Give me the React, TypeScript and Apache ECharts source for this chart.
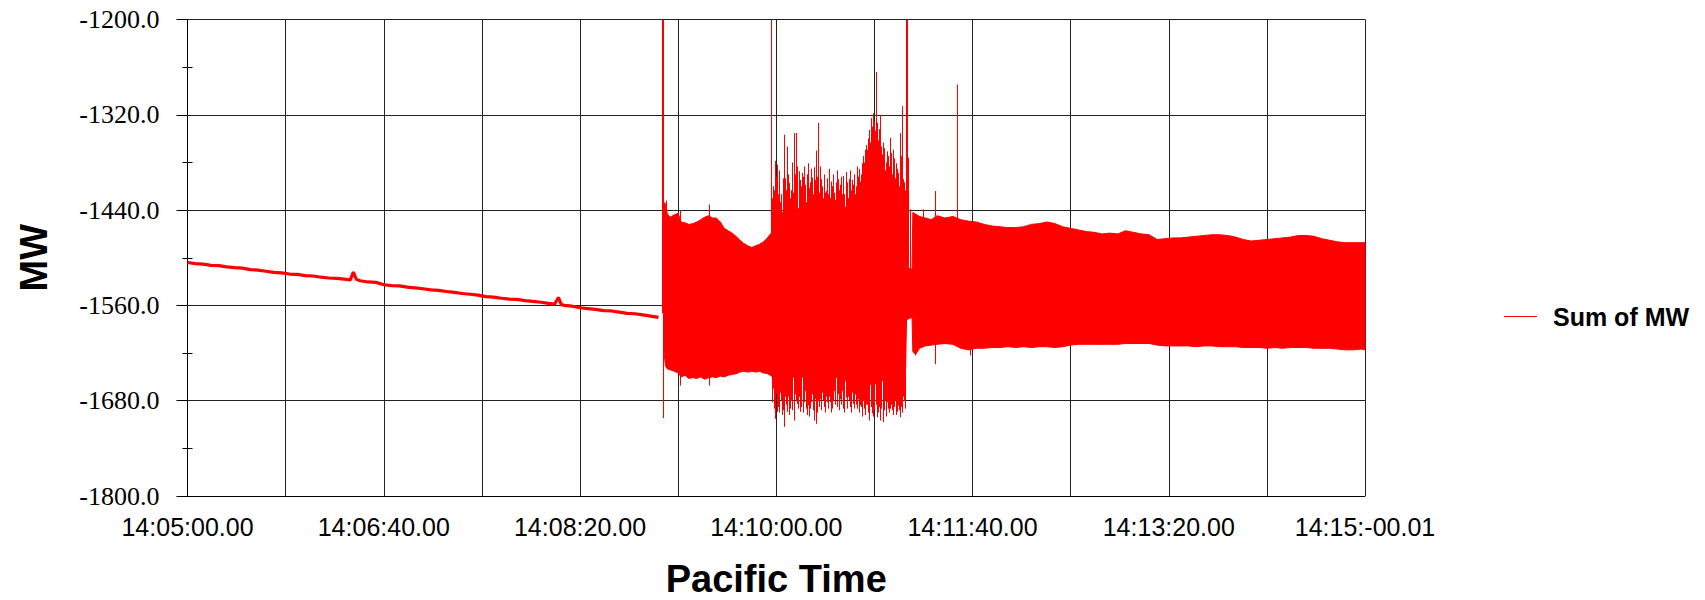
import React, { useEffect, useRef } from 'react';
import * as echarts from 'echarts';

// ---- data (seconds after 14:05:00, MW) ----
const seg1Time = [0, 4, 8, 12, 16, 20, 24, 28, 32, 36, 40, 44, 48, 52, 56, 60, 64, 68, 72, 76, 80, 83, 84.5, 86, 88, 92, 96, 100, 104, 108, 112, 116, 120, 124, 128, 132, 136, 140, 144, 148, 152, 156, 160, 164, 168, 172, 176, 180, 184, 187, 189, 190.5, 192, 196, 200, 204, 208, 212, 216, 220, 224, 228, 232, 236, 240];
const seg1MW = [-1506, -1507.5, -1508, -1509.5, -1510, -1511.5, -1512.5, -1513, -1515, -1515.5, -1517, -1518.5, -1519, -1520.5, -1521, -1522.5, -1523, -1524.5, -1525.5, -1526, -1527, -1528, -1518, -1527, -1529, -1530.5, -1531, -1534, -1535, -1535.5, -1537, -1538, -1539, -1540.5, -1541, -1542.5, -1543.5, -1545, -1546, -1547, -1549, -1549.5, -1551, -1552, -1552.5, -1554, -1555, -1556, -1557.5, -1558.5, -1550, -1559, -1560, -1561, -1563, -1564, -1565, -1566.5, -1567, -1568.5, -1570, -1570.5, -1572, -1573.5, -1575];

const bandTime = [242.6, 243.5, 244.5, 246, 248, 250, 251.5, 253.5, 255.5, 257.5, 259.5, 261.5, 263.5, 265.5, 267.5, 269.5, 271.5, 273.5, 275.5, 277.5, 279.5, 281.5, 283.5, 285.5, 287.5, 289.5, 291.5, 293.5, 295.5, 297,
  298, 300, 302, 305, 308, 311, 314, 317, 320, 323, 326, 329, 332, 335, 338, 341, 344, 346, 348, 350, 352, 354, 357, 360, 363, 365.8,
  366.4, 369.2,
  369.6, 371, 373, 376, 379, 382, 386, 390, 394, 398, 402, 406, 410, 414, 418, 422, 426, 430, 434, 438, 442, 446, 450, 454, 458, 462, 466, 470, 474, 478, 482, 486, 490, 494, 498, 502, 506, 510, 514, 518, 522, 526, 530, 534, 538, 542, 546, 550, 554, 558, 562, 566, 570, 574, 578, 582, 586, 590, 594, 598, 600];
const bandHigh = [-1430, -1432, -1445, -1449, -1446, -1444, -1455, -1456, -1458, -1457, -1455, -1452, -1449, -1447, -1450, -1450, -1455, -1463, -1466, -1469, -1473, -1478, -1482, -1485, -1487, -1485, -1483, -1480, -1475, -1470,
  -1468, -1460, -1445, -1440, -1442, -1438, -1440, -1438, -1436, -1440, -1438, -1442, -1440, -1436, -1438, -1432, -1420, -1400, -1385, -1390, -1405, -1425, -1432, -1436, -1430, -1440,
  -1512, -1515,
  -1443, -1445, -1448, -1450, -1452, -1447, -1450, -1448, -1452, -1454, -1455, -1458, -1460, -1461, -1462, -1462, -1461, -1458, -1457, -1455, -1457, -1461, -1463, -1465, -1467, -1468, -1470, -1469, -1470, -1466, -1468, -1470, -1471, -1477, -1476, -1475, -1475, -1474, -1473, -1472, -1471, -1471, -1472, -1474, -1477, -1479, -1478, -1477, -1476, -1475, -1474, -1472, -1472, -1473, -1476, -1478, -1480, -1481, -1481, -1481, -1481];
const bandLow = [-1612, -1636, -1640, -1641, -1643, -1645, -1650, -1648, -1652, -1651, -1652, -1650, -1653, -1651, -1650, -1651, -1649, -1650, -1648, -1647, -1646, -1644, -1643, -1644, -1643, -1644, -1643, -1645, -1646, -1648,
  -1650, -1648, -1645, -1648, -1650, -1652, -1650, -1652, -1655, -1652, -1654, -1650, -1652, -1655, -1652, -1655, -1656, -1658, -1660, -1660, -1656, -1655, -1654, -1655, -1652, -1650,
  -1578, -1575,
  -1618, -1622, -1614, -1611, -1610, -1609, -1608, -1609, -1614, -1616, -1614, -1614, -1613, -1613, -1612, -1613, -1612, -1613, -1612, -1612, -1613, -1612, -1610, -1609, -1609, -1609, -1609, -1609, -1609, -1608, -1608, -1608, -1608, -1610, -1611, -1611, -1611, -1611, -1612, -1611, -1611, -1612, -1612, -1612, -1613, -1613, -1613, -1614, -1613, -1614, -1613, -1613, -1613, -1614, -1614, -1614, -1615, -1616, -1616, -1615, -1616];

const spikeUpTime = [241.8, 242.2, 244, 250.8, 265.6, 297.5, 298.5, 299.5, 300.3, 301.2, 302.5, 303.7, 304.5, 305.4, 306.3, 307.5, 308.8, 309.5, 310.2, 311.4, 312.5, 313.1, 314.7, 315.5, 316.4, 317.3, 318.1, 319, 320.5, 321.5, 322.9, 324, 325.4, 326.5, 327.8, 329, 330, 331.7, 332.5, 333.3, 334.2, 335.9, 336.7, 337.3, 338.3, 339.3, 340, 341, 342.7, 343.6, 344.5, 345.3, 346.1, 346.8, 347.5, 348.3, 349, 349.5, 350.2, 350.8, 351.5, 352.2, 352.9, 353.7, 354.6, 355.5, 356.3, 357.2, 358, 359, 359.7, 360.5, 361, 362.2, 362.6, 363, 363.9, 364.7, 365.3, 366.1, 366.8, 367.3, 368.3, 375, 381, 392,
  297.9, 299.1, 299.9, 300.8, 301.6, 302.1, 303.2, 304.1, 304.9, 305.8, 306.8, 307.9, 308.3, 309.1, 309.9, 310.7, 311.9, 312.8, 313.6, 314.2, 315.1, 315.9, 316.9, 317.7, 318.6, 319.5, 320.1, 320.9, 321.9, 322.4, 323.5, 324.5, 324.9, 325.9, 326.9, 327.3, 328.3, 328.7, 329.5, 330.5, 331.2, 332.1, 332.9, 333.8, 334.7, 335.4, 336.3, 337.8, 338.8, 339.8, 340.5, 341.5, 342.2, 343.1, 344.1, 344.9, 345.7, 346.5, 347.1, 347.9, 348.7, 349.8, 350.5, 351.1, 351.8, 352.5, 353.3, 354.1, 355, 355.9, 356.7, 357.6, 358.5, 359.4, 360.1, 360.9, 361.6, 362.9, 363.5, 364.3, 365, 365.7];
const spikeUpMW = [-1200, -1200, -1428, -1441, -1433, -1200, -1410, -1378, -1383, -1406, -1420, -1345, -1400, -1360, -1406, -1415, -1343, -1395, -1343, -1391, -1410, -1393, -1408, -1420, -1381, -1405, -1399, -1386, -1415, -1330, -1401, -1425, -1416, -1420, -1404, -1430, -1427, -1401, -1408, -1420, -1397, -1410, -1425, -1401, -1415, -1408, -1420, -1385, -1404, -1381, -1395, -1364, -1364, -1350, -1339, -1324, -1345, -1318, -1340, -1266, -1337, -1345, -1320, -1375, -1355, -1390, -1366, -1385, -1349, -1395, -1364, -1400, -1381, -1393, -1410, -1343, -1309, -1401, -1420, -1200, -1200, -1374, -1439, -1439, -1416, -1282,
  -1425, -1415, -1398, -1420, -1390, -1430, -1400, -1372, -1415, -1395, -1425, -1380, -1418, -1370, -1412, -1385, -1402, -1422, -1398, -1385, -1430, -1395, -1412, -1388, -1420, -1402, -1365, -1398, -1418, -1385, -1410, -1395, -1418, -1400, -1388, -1425, -1410, -1395, -1418, -1405, -1390, -1415, -1398, -1405, -1420, -1392, -1405, -1390, -1402, -1395, -1410, -1398, -1388, -1395, -1372, -1380, -1358, -1372, -1345, -1355, -1335, -1328, -1350, -1330, -1352, -1338, -1360, -1370, -1362, -1380, -1372, -1392, -1368, -1385, -1375, -1395, -1388, -1398, -1372, -1390, -1405, -1415];
const spikeDownTime = [242.5, 250.8, 265.6, 297.8, 298.2, 298.6, 299.5, 300.3, 301.2, 301.8, 302.9, 303.7, 304.5, 305.4, 306.2, 307.1, 308.8, 309.6, 310.5, 311.3, 312.2, 313.9, 314.7, 315.6, 316.5, 317.3, 318.2, 319, 320.3, 321.4, 322.4, 323.2, 324.1, 325.8, 326.9, 328.3, 329.2, 330, 330.8, 331.7, 332.5, 333.4, 334.2, 335.9, 336.8, 337.6, 338.5, 339.3, 340.2, 341, 342.7, 344, 345.3, 346.4, 347.5, 348.6, 350, 351.2, 352.9, 353.5, 354.2, 355.2, 356.3, 357.1, 358, 359.7, 360.5, 361.4, 362.2, 363, 364.7, 365.3, 370.8, 381, 398.8,
  297.6, 299.1, 299.9, 300.8, 301.5, 302.4, 303.3, 304.1, 304.9, 305.8, 306.6, 307.6, 308.2, 309.2, 310, 310.9, 311.7, 312.7, 313.4, 314.2, 315.1, 316, 316.9, 317.7, 318.6, 319.5, 320.8, 321.9, 322.8, 323.7, 324.6, 325.3, 326.3, 327.3, 327.8, 328.8, 329.7, 331.2, 332.1, 332.9, 333.8, 334.7, 335.4, 336.3, 337.1, 338.1, 338.9, 339.8, 340.6, 341.5, 342.2, 343.2, 343.6, 344.6, 345.8, 346.9, 348.1, 349.2, 349.6, 350.6, 351.7, 352.4, 353.1, 354.7, 355.7, 356.8, 357.6, 358.5, 359.2, 360.1, 360.9, 361.8, 362.6, 363.5, 364.2, 365, 365.7];
const spikeDownMW = [-1702, -1661, -1661, -1682, -1665, -1684, -1703, -1694, -1678, -1670, -1698, -1713, -1675, -1694, -1668, -1690, -1705, -1672, -1684, -1670, -1694, -1678, -1668, -1698, -1675, -1690, -1672, -1705, -1709, -1680, -1678, -1670, -1688, -1682, -1675, -1690, -1668, -1673, -1688, -1672, -1678, -1668, -1690, -1684, -1675, -1688, -1670, -1678, -1672, -1690, -1686, -1680, -1698, -1685, -1705, -1696, -1688, -1701, -1705, -1690, -1707, -1680, -1682, -1675, -1690, -1698, -1680, -1694, -1685, -1701, -1675, -1670, -1623, -1634, -1623,
  -1668, -1690, -1672, -1688, -1695, -1680, -1692, -1700, -1685, -1675, -1698, -1680, -1692, -1698, -1680, -1690, -1675, -1688, -1695, -1682, -1690, -1686, -1700, -1682, -1692, -1678, -1695, -1688, -1692, -1680, -1695, -1675, -1690, -1682, -1695, -1680, -1685, -1680, -1692, -1685, -1680, -1695, -1676, -1690, -1680, -1695, -1684, -1690, -1685, -1678, -1695, -1688, -1700, -1690, -1685, -1695, -1688, -1700, -1692, -1685, -1695, -1688, -1698, -1692, -1700, -1690, -1695, -1685, -1692, -1688, -1698, -1686, -1692, -1688, -1695, -1680, -1690];

const xTickSeconds = [0, 100, 200, 300, 400, 500, 600];
const xTickLabels = ['14:05:00.00', '14:06:40.00', '14:08:20.00', '14:10:00.00', '14:11:40.00', '14:13:20.00', '14:15:-00.01'];
const yMin = -1800;
const yMax = -1200;
const yStep = 120;
const SPIKE_BASE = -1570;

const RED = '#ff0000';
const SANS = "'Liberation Sans', Arial, sans-serif";
const SERIF = "'Liberation Serif', 'Times New Roman', serif";

export default function App() {
  const ref = useRef<HTMLDivElement>(null);

  useEffect(() => {
    if (!ref.current) return;
    const chart = echarts.init(ref.current, undefined, { renderer: 'svg' });

    const lineData = seg1Time.map((t, i) => [t, seg1MW[i]]);
    const bandData = bandTime.map((t, i) => [t, bandLow[i], bandHigh[i]]);
    const spikeData = [
      ...spikeUpTime.map((t, i) => [t, spikeUpMW[i]]),
      ...spikeDownTime.map((t, i) => [t, spikeDownMW[i]]),
    ];

    const option: any = {
      animation: false,
      backgroundColor: '#ffffff',
      grid: { left: 187.5, right: 340, top: 19.5, bottom: 104, containLabel: false, outerBoundsMode: 'none' },
      legend: {
        data: [{ name: 'Sum of MW', icon: 'rect' }],
        orient: 'vertical',
        left: 1499,
        top: 299,
        itemWidth: 33,
        itemHeight: 1,
        textStyle: { fontFamily: SANS, fontSize: 25, fontWeight: 'bold', color: '#000', padding: [0, 0, 0, 11] },
      },
      xAxis: {
        type: 'value',
        min: 0,
        max: 600,
        interval: 50,
        axisLine: { show: true, lineStyle: { color: '#000', width: 1 } },
        axisTick: { show: false },
        axisLabel: {
          show: true,
          formatter: (v: number) => {
            const idx = xTickSeconds.indexOf(Math.round(v));
            return idx >= 0 ? xTickLabels[idx] : '';
          },
          fontFamily: SANS,
          fontSize: 25,
          color: '#000',
          margin: 18,
          showMinLabel: true,
          showMaxLabel: true,
          hideOverlap: false,
        },
        splitLine: { show: true, lineStyle: { color: '#222', width: 1 } },
        name: 'Pacific Time',
        nameLocation: 'middle',
        nameGap: 66,
        nameTextStyle: { fontFamily: SANS, fontSize: 38, fontWeight: 'bold', color: '#000', lineHeight: 34 },
      },
      yAxis: [
        {
          type: 'value',
          min: yMin,
          max: yMax,
          interval: yStep,
          axisLine: { show: true, lineStyle: { color: '#000', width: 1 } },
          axisTick: { show: true, length: 11, lineStyle: { color: '#000' } },
          minorTick: { show: true, splitNumber: 2, length: 5, lineStyle: { color: '#000' } },
          axisLabel: {
            formatter: (v: number) => v.toFixed(1),
            fontFamily: SERIF,
            fontSize: 26,
            color: '#000',
            margin: 28,
            showMinLabel: true,
            showMaxLabel: true,
          },
          splitLine: { show: true, lineStyle: { color: '#222', width: 1 } },
          name: 'MW',
          nameLocation: 'middle',
          nameGap: 135,
          nameTextStyle: { fontFamily: SANS, fontSize: 38, fontWeight: 'bold', color: '#000' },
        },
        {
          type: 'value',
          min: yMin,
          max: yMax,
          interval: yStep,
          position: 'left',
          axisLine: { show: false },
          axisTick: { show: false, inside: true },
          minorTick: { show: true, splitNumber: 2, length: 5, lineStyle: { color: '#000' } },
          axisLabel: { show: false },
          splitLine: { show: false },
        },
      ],
      series: [
        {
          name: 'band',
          type: 'custom',
          data: bandData,
          encode: { x: 0, y: [1, 2] },
          renderItem: (params: any, api: any) => {
            if (params.dataIndex !== 0) return null;
            const top = bandTime.map((t, i) => api.coord([t, bandHigh[i]]));
            const bottom = bandTime.map((t, i) => api.coord([t, bandLow[i]])).reverse();
            return {
              type: 'polygon',
              shape: { points: [...top, ...bottom] },
              style: { fill: RED, stroke: RED, lineWidth: 1 },
            };
          },
          z: 2,
        },
        {
          name: 'spikes',
          type: 'custom',
          data: spikeData,
          encode: { x: 0, y: 1 },
          renderItem: (params: any, api: any) => {
            const p1 = api.coord([api.value(0), SPIKE_BASE]);
            const p2 = api.coord([api.value(0), api.value(1)]);
            const x = Math.round(p1[0]) + 0.5;
            return {
              type: 'line',
              shape: { x1: x, y1: p1[1], x2: x, y2: p2[1] },
              style: { stroke: RED, lineWidth: 1 },
            };
          },
          z: 2,
        },
        {
          name: 'Sum of MW',
          type: 'line',
          data: lineData,
          showSymbol: false,
          symbol: 'none',
          lineStyle: { color: RED, width: 3.2 },
          itemStyle: { color: RED },
          z: 3,
        },
      ],
    };

    chart.setOption(option);
    return () => chart.dispose();
  }, []);

  return (
    <div
      ref={ref}
      style={{ position: 'absolute', left: 0, top: 0, width: 1705, height: 600, background: '#fff' }}
    />
  );
}
